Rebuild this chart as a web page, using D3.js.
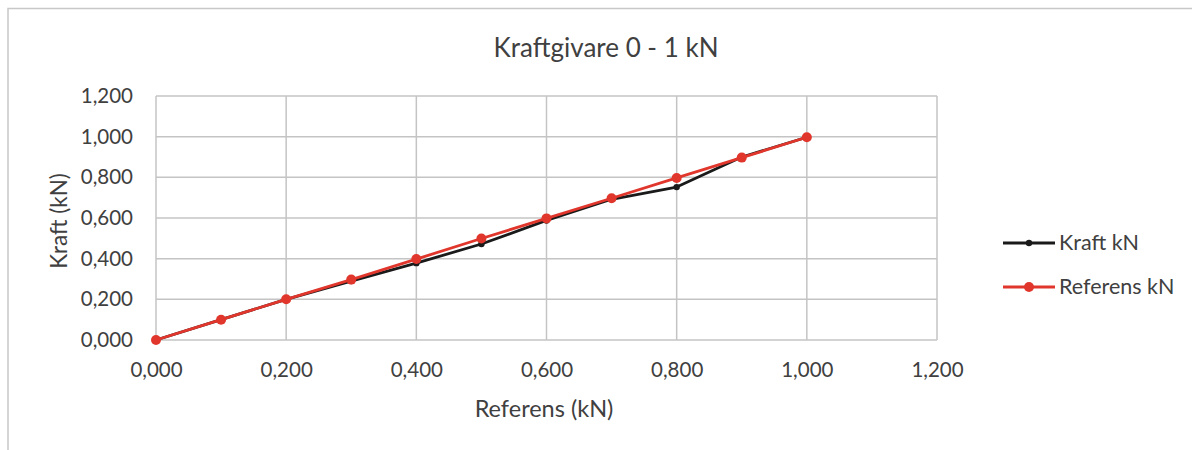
<!DOCTYPE html>
<html>
<head>
<meta charset="utf-8">
<script src="https://cdn.jsdelivr.net/npm/d3@7"></script>
<style>
  html, body { margin: 0; padding: 0; background: #fff; }
  svg text { font-family: Lato, "Open Sans", sans-serif; fill: #404040; }
</style>
</head>
<body>
<svg id="chart" width="1192" height="450"></svg>
<script>
// Referens (x) against measured Kraft and the reference line itself
const referens = [0.0, 0.1, 0.2, 0.3, 0.4, 0.5, 0.6, 0.7, 0.8, 0.9, 1.0];
const kraft    = [0.0, 0.1, 0.2, 0.29, 0.378, 0.472, 0.588, 0.692, 0.752, 0.9, 0.997];
const refLine  = [0.0, 0.1, 0.2, 0.297, 0.398, 0.499, 0.598, 0.697, 0.797, 0.897, 0.997];
const xTicks = [0, 0.2, 0.4, 0.6, 0.8, 1.0, 1.2];
const yTicks = [0, 0.2, 0.4, 0.6, 0.8, 1.0, 1.2];
const seriesNames = ["Kraft kN", "Referens kN"];
const seriesColors = ["#1a1a1a", "#e0362c"];

const fmt = v => d3.format(".3f")(v).replace(".", ",");

const svg = d3.select("#chart");
const plot = { left: 156, right: 937, top: 96, bottom: 340 };

// outer chart frame (top and left edges)
svg.append("path")
  .attr("d", "M8,450 L8,8.5 L1192,8.5")
  .attr("fill", "none").attr("stroke", "#c8c8c8").attr("stroke-width", 1.5);

const x = d3.scaleLinear().domain([0, 1.2]).range([plot.left, plot.right]);
const y = d3.scaleLinear().domain([0, 1.2]).range([plot.bottom, plot.top]);

// gridlines
const grid = svg.append("g");
grid.selectAll("line.v").data(xTicks).join("line")
  .attr("x1", d => x(d)).attr("x2", d => x(d))
  .attr("y1", plot.top).attr("y2", plot.bottom)
  .attr("stroke", "#c4c4c4").attr("stroke-width", 1.5);
grid.selectAll("line.h").data(yTicks).join("line")
  .attr("x1", plot.left).attr("x2", plot.right)
  .attr("y1", d => y(d)).attr("y2", d => y(d))
  .attr("stroke", "#c4c4c4").attr("stroke-width", 1.5);

// axes (labels only, Excel-style)
const xAxis = svg.append("g").attr("transform", `translate(0,${plot.bottom})`)
  .call(d3.axisBottom(x).tickValues(xTicks).tickFormat(fmt).tickSize(0).tickPadding(22));
xAxis.select(".domain").remove();
xAxis.selectAll("text").attr("font-size", 20.5).attr("fill", "#404040");

const yAxis = svg.append("g").attr("transform", `translate(${plot.left},0)`)
  .call(d3.axisLeft(y).tickValues(yTicks).tickFormat(fmt).tickSize(0).tickPadding(23));
yAxis.select(".domain").remove();
yAxis.selectAll("text").attr("font-size", 20.5).attr("fill", "#404040");

// titles
svg.append("text").attr("x", 606).attr("y", 57).attr("text-anchor", "middle")
  .attr("font-size", 26).text("Kraftgivare 0 - 1 kN");
svg.append("text").attr("x", 544).attr("y", 417).attr("text-anchor", "middle")
  .attr("font-size", 23.5).text("Referens (kN)");
svg.append("text").attr("transform", "translate(67,221) rotate(-90)")
  .attr("text-anchor", "middle").attr("font-size", 22.5).text("Kraft (kN)");

// series
const series = [kraft, refLine];
const line = d3.line().x((d, i) => x(referens[i])).y(d => y(d));
series.forEach((vals, s) => {
  const g = svg.append("g");
  g.append("path").datum(vals).attr("d", line)
    .attr("fill", "none").attr("stroke", seriesColors[s])
    .attr("stroke-width", 2.8).attr("stroke-linejoin", "round");
  g.selectAll("circle").data(vals).join("circle")
    .attr("cx", (d, i) => x(referens[i])).attr("cy", d => y(d))
    .attr("r", s === 0 ? 3.2 : 5).attr("fill", seriesColors[s]);
});

// legend
const legend = svg.append("g");
[243, 287].forEach((ly, s) => {
  legend.append("line").attr("x1", 1003).attr("x2", 1055).attr("y1", ly).attr("y2", ly)
    .attr("stroke", seriesColors[s]).attr("stroke-width", 2.8);
  legend.append("circle").attr("cx", 1029).attr("cy", ly).attr("r", s === 0 ? 3.2 : 5)
    .attr("fill", seriesColors[s]);
  legend.append("text").attr("x", 1059).attr("y", ly + 7).attr("font-size", 21.5)
    .text(seriesNames[s]);
});
</script>
</body>
</html>
